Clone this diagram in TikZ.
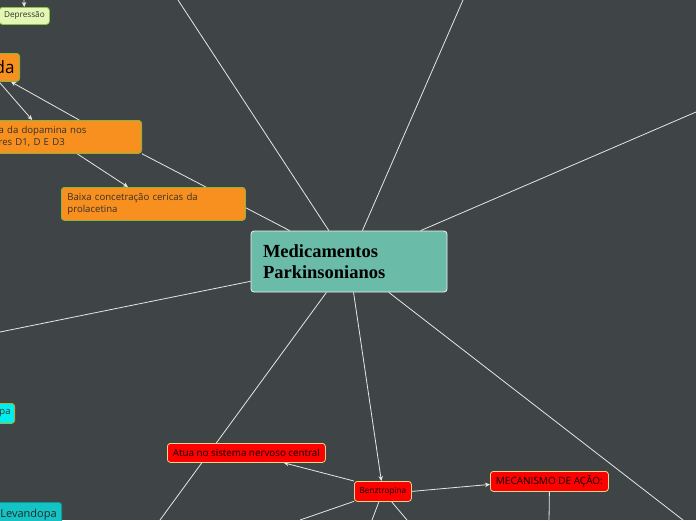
\documentclass[tikz,border=0pt]{standalone}
\usepackage{fontspec}
\setmainfont{Open Sans}
\newfontfamily\titlefont{Liberation Serif}
\usetikzlibrary{arrows.meta,calc}
\definecolor{bgc}{RGB}{63,69,70}
\definecolor{linec}{RGB}{230,230,230}
\definecolor{orangec}{RGB}{247,144,30}
\definecolor{oborder}{RGB}{140,180,62}
\definecolor{tealc}{RGB}{107,187,169}
\definecolor{redc}{RGB}{255,0,0}
\definecolor{rborder}{RGB}{232,214,138}
\definecolor{greenc}{RGB}{228,247,180}
\definecolor{gborder}{RGB}{139,195,74}
\definecolor{cyanc}{RGB}{0,238,238}
\definecolor{cborder}{RGB}{168,176,64}
\definecolor{levc}{RGB}{20,196,196}
\definecolor{lborder}{RGB}{10,150,150}
\definecolor{txtc}{RGB}{55,48,42}
\pgfdeclarelayer{bgl}
\pgfdeclarelayer{lines}
\pgfsetlayers{bgl,lines,main}
\tikzset{
  box/.style={draw, rounded corners=3pt, line width=0.8pt},
  cnode/.style={box, fill=tealc, draw=white!90!gray, align=left},
  onode/.style={box, fill=orangec, draw=oborder, text=txtc, align=left, font=\fontsize{9.6}{12}\selectfont},
  rnode/.style={box, fill=redc, draw=rborder, text=black},
  gnode/.style={box, fill=greenc, draw=gborder, text=txtc, font=\fontsize{8.2}{9}\selectfont},
  conn/.style={draw=linec, line width=0.8pt},
  arr/.style={conn, -{Stealth[length=5pt,width=4.5pt]}},
}
\begin{document}
\begin{tikzpicture}[x=1pt,y=-1pt]
\useasboundingbox (0,0) rectangle (696,520);
\begin{pgfonlayer}{bgl}
\fill[bgc] (0,0) rectangle (696,520);
\end{pgfonlayer}

% nodes
\node[cnode, minimum height=61pt, text width=172pt, inner xsep=12pt,
  font=\titlefont\bfseries\fontsize{18.5}{21}\selectfont] (c) at (349,261.5) {Medicamentos\\Parkinsonianos};
\node[onode, text width=172pt, inner xsep=6pt, minimum height=33pt, anchor=north west] (bx) at (61,187) {Baixa concetração cericas da\\prolacetina};
\node[onode, text width=137pt, inner xsep=6pt, minimum height=33pt, anchor=north east] (dop) at (142,120) {a da dopamina nos\\res D1, D E D3};
\node[onode, text=black, font=\fontsize{17}{20}\selectfont, minimum height=28pt, inner xsep=5pt, anchor=north east] (da) at (20,53) {da};
\node[gnode, minimum width=50pt, minimum height=17pt, inner sep=1pt, anchor=north west] (dep) at (-1,7) {Depressão};
\node[rnode, minimum width=158pt, minimum height=19pt, inner sep=1pt, font=\fontsize{9.8}{11}\selectfont, anchor=north west] (atua) at (167,443) {Atua no sistema nervoso central};
\node[rnode, minimum width=57pt, minimum height=20pt, inner sep=1pt, font=\fontsize{8.2}{9}\selectfont, anchor=north west] (b) at (354,481) {Benztropina};
\node[rnode, minimum width=118pt, minimum height=20pt, inner sep=1pt, font=\fontsize{10}{12}\selectfont, anchor=north west] (mec) at (490,471) {MECANISMO DE AÇÃO:};
\node[box, fill=cyanc, draw=cborder, text=txtc, font=\fontsize{9.5}{11}\selectfont, minimum height=20pt, inner xsep=4pt, anchor=north east] (pa) at (15,403) {pa};
\node[box, fill=levc, draw=lborder, text=black!85, font=\fontsize{11}{13}\selectfont, minimum width=66pt, minimum height=24pt, inner xsep=5pt, anchor=north west] (lev) at (-5,502) {Levandopa};

% free ends
\coordinate (tl) at (178,0);
\coordinate (tr) at (463,0);
\coordinate (rr) at (696,112);
\coordinate (ll) at (0,332);
\coordinate (bl) at (160,520);
\coordinate (br) at (683,520);
\coordinate (dtop) at (24,-2);
\coordinate (mdown) at (549,522);
\coordinate (b1) at (300,520);
\coordinate (b2) at (372,520);
\coordinate (b3) at (407,520);

\begin{pgfonlayer}{lines}
\draw[conn] (c) -- (tl);
\draw[conn] (c) -- (tr);
\draw[conn] (c) -- (rr);
\draw[conn] (c) -- (ll);
\draw[conn] (c) -- (bl);
\draw[conn] (c) -- (br);
\draw[conn] (c) -- (dop.south east);
\draw[arr] (c) -- (b);
\draw[arr] (dtop) -- (dep);
\draw[arr] ($(da.south east)+(-21,0)$) -- ($(dop.north west)+(40,0)$);
\draw[arr] ($(dop.north west)+(87,0)$) -- ($(da.south east)+(-9,0)$);
\draw[arr] ($(dop.south west)+(85,0)$) -- ($(bx.north west)+(67,0)$);
\draw[arr] (b.north west) -- ($(atua.south east)+(-42,0)$);
\draw[arr] (b.east) -- ($(mec.west)+(0,3)$);
\draw[conn] (mec.south) -- (mdown);
\draw[conn] (b) -- (b1);
\draw[conn] (b) -- (b2);
\draw[conn] (b) -- (b3);
\end{pgfonlayer}
\end{tikzpicture}
\end{document}
